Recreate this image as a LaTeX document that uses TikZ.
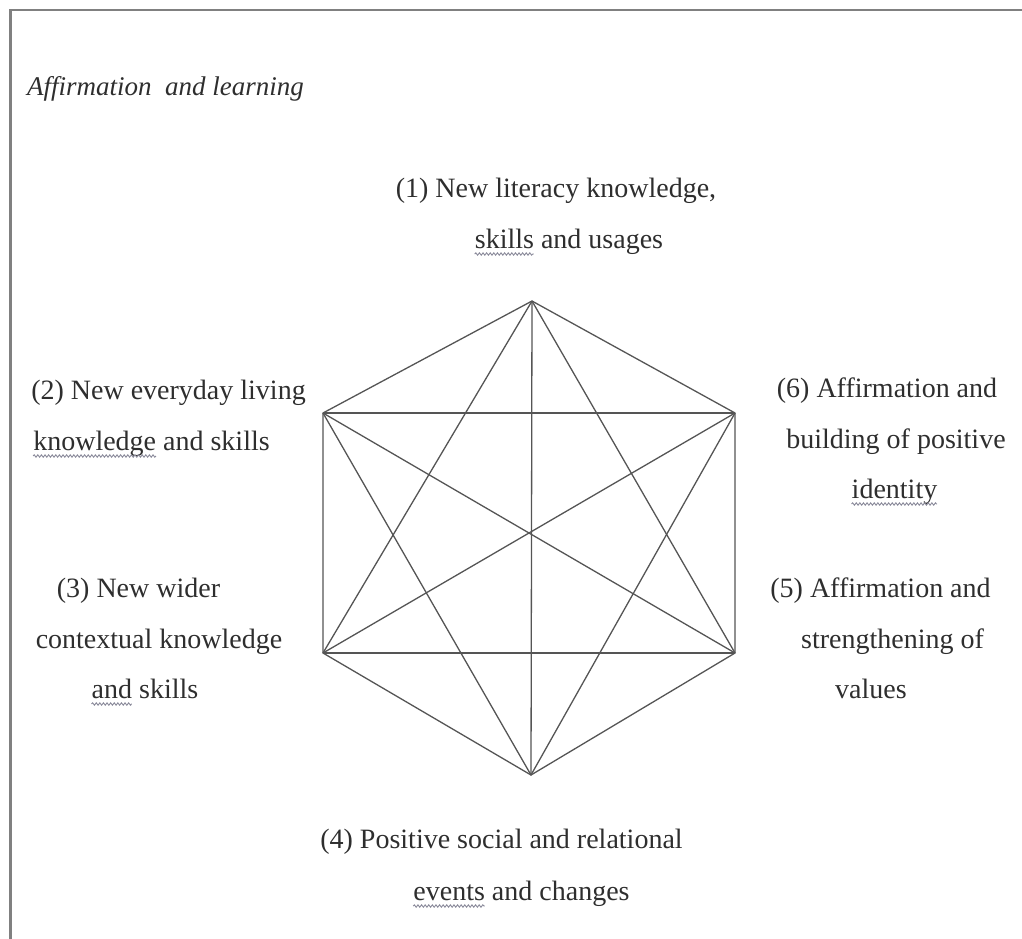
\documentclass[tikz,border=0pt]{standalone}
\usepackage{fontspec}
\setmainfont{Liberation Serif}
\usetikzlibrary{decorations.pathmorphing}
\definecolor{txt}{HTML}{2E2E2E}
\definecolor{edge}{HTML}{555555}
\definecolor{frame}{HTML}{808080}
\definecolor{squigc}{HTML}{8A8A9A}
\newcommand{\lblfont}{\fontsize{28}{34}\selectfont}
\newlength{\wskills}
\newlength{\wknowledge}
\newlength{\widentity}
\newlength{\wand}
\newlength{\wevents}
\tikzset{
  lbl/.style={anchor=base, inner sep=0pt, text=txt, font=\lblfont},
  ttl/.style={anchor=base west, inner sep=0pt, text=txt, font=\fontsize{27}{34}\selectfont\itshape},
  edgeline/.style={draw=edge, line width=1.3pt},
  framel/.style={draw=frame, line width=2.2pt},
  squigline/.style={draw=squigc, line width=0.9pt, decorate, decoration={snake, amplitude=1.2pt, segment length=3.6pt}}
}
% squiggle under the first word of a line node: #1 node name, #2 word width
\newcommand{\squigunder}[2]{%
  \draw[squigline] ([yshift=-6pt]#1.base west) -- ([yshift=-6pt, xshift=#2]#1.base west);}
\begin{document}
\settowidth{\wskills}{\lblfont skills}%
\settowidth{\wknowledge}{\lblfont knowledge}%
\settowidth{\widentity}{\lblfont identity}%
\settowidth{\wand}{\lblfont and}%
\settowidth{\wevents}{\lblfont events}%
\begin{tikzpicture}[x=1pt,y=-1pt]
\useasboundingbox (0,0) rectangle (1022,938);
% frame
\coordinate (fbl) at (10.5,940);
\coordinate (ftl) at (10.5,10);
\coordinate (ftr) at (1024,10);
\draw[framel] (fbl) -- (ftl) -- (ftr);
% title
\node[ttl] (title) at (27,95) {Affirmation\ \ and learning};
% vertices
\coordinate (T) at (532,301);
\coordinate (UR) at (735,413);
\coordinate (LR) at (735,653);
\coordinate (B) at (531,775);
\coordinate (LL) at (323,653);
\coordinate (UL) at (323,413);
% complete graph
\draw[edgeline] (T) -- (UR) -- (LR) -- (B) -- (LL) -- (UL) -- cycle;
\draw[edgeline] (T) -- (LR);
\draw[edgeline] (T) -- (LL);
\draw[edgeline] (T) -- (B);
\draw[edgeline] (UR) -- (B);
\draw[edgeline] (UR) -- (LL);
\draw[edgeline] (UR) -- (UL);
\draw[edgeline] (LR) -- (LL);
\draw[edgeline] (LR) -- (UL);
\draw[edgeline] (B) -- (UL);
% labels
\node[lbl] (l1a) at (556,197) {(1) New literacy knowledge,};
\node[lbl] (l1b) at (569,248) {skills and usages};
\node[lbl] (l2a) at (168.5,399) {(2) New everyday living};
\node[lbl] (l2b) at (151.5,450) {knowledge and skills};
\node[lbl] (l6a) at (887,397) {(6) Affirmation and};
\node[lbl] (l6b) at (896,448) {building of positive};
\node[lbl] (l6c) at (894.5,498) {identity};
\node[lbl] (l3a) at (138.5,597) {(3) New wider};
\node[lbl] (l3b) at (159,648) {contextual knowledge};
\node[lbl] (l3c) at (145,698) {and skills};
\node[lbl] (l5a) at (880.5,597) {(5) Affirmation and};
\node[lbl] (l5b) at (892.5,648) {strengthening of};
\node[lbl] (l5c) at (871,698) {values};
\node[lbl] (l4a) at (501.5,848) {(4) Positive social and relational};
\node[lbl] (l4b) at (521.5,900) {events and changes};
% spell-check squiggles
\squigunder{l1b}{\wskills}
\squigunder{l2b}{\wknowledge}
\squigunder{l6c}{\widentity}
\squigunder{l3c}{\wand}
\squigunder{l4b}{\wevents}
\end{tikzpicture}
\end{document}
